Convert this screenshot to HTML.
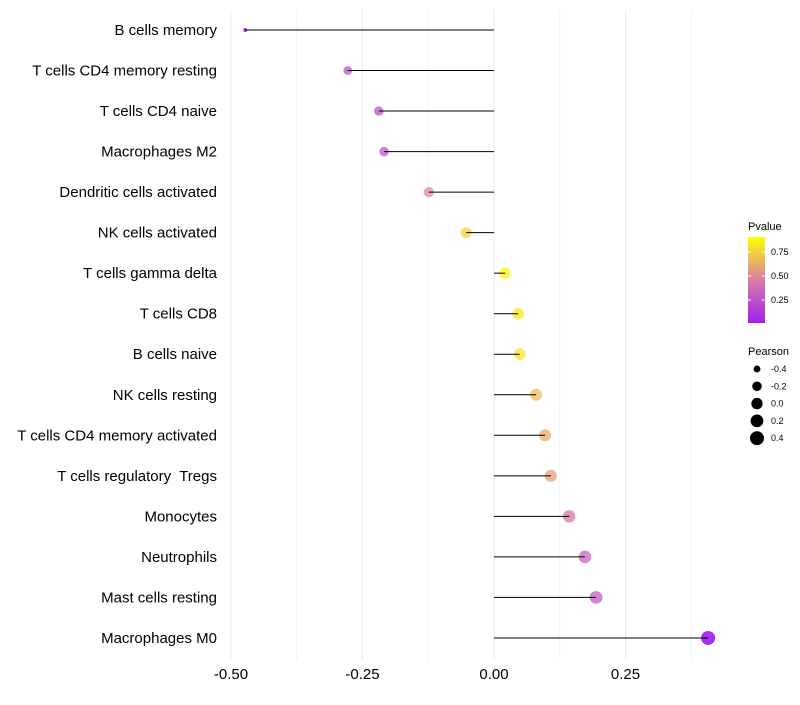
<!DOCTYPE html>
<html><head><meta charset="utf-8"><style>
body{margin:0;background:#fff;font-family:"Liberation Sans",sans-serif}
text{white-space:pre}
</style></head><body>
<svg id="chart" width="800" height="700" xmlns="http://www.w3.org/2000/svg" font-family="Liberation Sans, sans-serif"></svg>
<script>
const categories=["B cells memory","T cells CD4 memory resting","T cells CD4 naive","Macrophages M2","Dendritic cells activated","NK cells activated","T cells gamma delta","T cells CD8","B cells naive","NK cells resting","T cells CD4 memory activated","T cells regulatory  Tregs","Monocytes","Neutrophils","Mast cells resting","Macrophages M0"];
const pearson=[-0.473,-0.278,-0.219,-0.209,-0.124,-0.053,0.021,0.046,0.049,0.080,0.097,0.108,0.143,0.173,0.194,0.407];
const pvalues=[0.05,0.25,0.28,0.28,0.55,0.80,0.92,0.86,0.86,0.72,0.66,0.62,0.45,0.35,0.30,0.02];
const xTicks=[-0.5,-0.25,0,0.25];
const xTickLabels=["-0.50","-0.25","0.00","0.25"];
const colorTicks=[0.25,0.5,0.75];
const sizeLegend=[-0.4,-0.2,0.0,0.2,0.4];

const svg=document.getElementById('chart');
const NS="http://www.w3.org/2000/svg";
function mk(t,a,p){const e=document.createElementNS(NS,t);for(const k in a)e.setAttribute(k,a[k]);(p||svg).appendChild(e);return e;}
const xs=v=>494+v*526;
const ys=i=>30+i*40.53;
const rs=v=>2+5*Math.sqrt(Math.max(0,(v+0.473)/0.88));
function col(p){
  const lo=[160,32,240],mid=[218,125,165],hi=[255,255,0];
  let a,b,t;
  if(p<0.5){a=lo;b=mid;t=p/0.5;}else{a=mid;b=hi;t=Math.min(1,(p-0.5)/0.45);}
  return `rgb(${a.map((c,i)=>Math.round(c+(b[i]-c)*t)).join(',')})`;
}
for(let v=-0.5;v<=0.4;v+=0.125){
  const g=mk('line',{x1:xs(v),x2:xs(v),y1:10,y2:660,stroke:Math.abs((v*4)%1)<1e-6?'#ebebeb':'#f4f4f4','stroke-width':1});
  
  
}
xTicks.forEach((v,i)=>{
  const t=mk('text',{x:xs(v),y:679,'text-anchor':'middle','font-size':15,fill:'#000'});
  t.textContent=xTickLabels[i];
  
  
});
categories.forEach((c,i)=>{
  const y=ys(i);
  const t=mk('text',{x:217,y:y+5,'text-anchor':'end','font-size':15,fill:'#000'});
  t.textContent=c;
  
  
  const d=mk('circle',{cx:xs(pearson[i]),cy:y,r:rs(pearson[i]),fill:col(pvalues[i]),'fill-opacity':pvalues[i]<0.1?0.95:0.75});
  
  
  const l=mk('line',{x1:xs(0),x2:xs(pearson[i]),y1:y,y2:y,stroke:'#000','stroke-width':1});
  
  
});
const lt=mk('text',{x:748,y:230,'font-size':11});lt.textContent='Pvalue';


const defs=mk('defs',{});
const gr=mk('linearGradient',{id:'pg',x1:0,y1:1,x2:0,y2:0},defs);
[[0,'rgb(160,32,240)'],[0.5,'rgb(218,125,165)'],[1,'rgb(255,255,0)']].forEach(s=>mk('stop',{offset:s[0],'stop-color':s[1]},gr));
const cb=mk('rect',{x:748,y:237,width:17,height:86,fill:'url(#pg)'});


colorTicks.forEach(v=>{
  const y=300-(v-0.25)*96;
  mk('line',{x1:748,x2:751,y1:y,y2:y,stroke:'#fff'});mk('line',{x1:762,x2:765,y1:y,y2:y,stroke:'#fff'});
  const t=mk('text',{x:771,y:y+3,'font-size':9});t.textContent=v.toFixed(2);
  
  
});
const st=mk('text',{x:748,y:355,'font-size':11});st.textContent='Pearson';


sizeLegend.forEach((v,i)=>{
  const y=369+i*17.3;
  const c=mk('circle',{cx:757,cy:y,r:rs(v),fill:'#000'});
  
  
  const t=mk('text',{x:771,y:y+3,'font-size':9});t.textContent=v.toFixed(1);
  
  
});
</script>
</body></html>
